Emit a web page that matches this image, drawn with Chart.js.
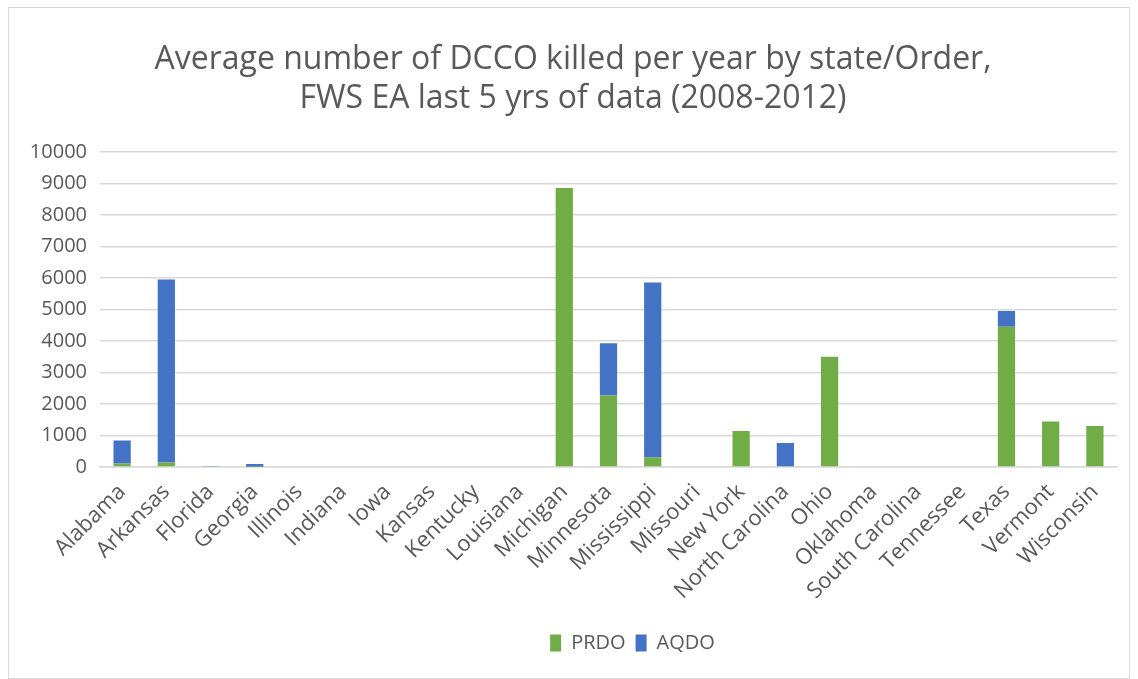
<!DOCTYPE html>
<html>
<head>
<meta charset="utf-8">
<script src="https://cdn.jsdelivr.net/npm/chart.js@4"></script>
<style>
  body { margin: 0; background: #fff; }
  #marco { position: absolute; left: 8px; top: 7px; width: 1122px; height: 672px; border: 1px solid #d9d9d9; box-sizing: border-box; }
</style>
</head>
<body>
<div id="marco"><canvas id="grafico"></canvas></div>
<script>
// datos
const estados = ['Alabama', 'Arkansas', 'Florida', 'Georgia', 'Illinois', 'Indiana', 'Iowa', 'Kansas',
  'Kentucky', 'Louisiana', 'Michigan', 'Minnesota', 'Mississippi', 'Missouri', 'New York',
  'North Carolina', 'Ohio', 'Oklahoma', 'South Carolina', 'Tennessee', 'Texas', 'Vermont', 'Wisconsin'];
const prdo = [110, 140, 0, 5, 0, 0, 0, 0, 0, 0, 8850, 2270, 300, 0, 1140, 0, 3500, 0, 0, 0, 4450, 1440, 1300];
const aqdo = [730, 5810, 15, 90, 0, 0, 0, 0, 0, 0, 0, 1660, 5550, 0, 0, 760, 0, 0, 0, 0, 500, 0, 0];
const ticksY = [0, 1000, 2000, 3000, 4000, 5000, 6000, 7000, 8000, 9000, 10000];

const gris = '#595959';
const fuente = "'Open Sans', sans-serif";

// corre la leyenda un poco a la derecha, como en la imagen
const moverLeyenda = {
  id: 'moverLeyenda',
  afterLayout(chart) {
    chart.legend.left += 24;
    chart.legend.right += 24;
  }
};

window.onload = () => {
  const ctx = document.getElementById('grafico').getContext('2d');
  new Chart(ctx, {
    type: 'bar',
    data: {
      labels: estados,
      datasets: [
        { label: 'PRDO', data: prdo, backgroundColor: '#70ad47', barPercentage: 0.78, categoryPercentage: 0.5 },
        { label: 'AQDO', data: aqdo, backgroundColor: '#4472c4', barPercentage: 0.78, categoryPercentage: 0.5 }
      ]
    },
    plugins: [moverLeyenda],
    options: {
      responsive: true,
      maintainAspectRatio: false,
      animation: false,
      layout: { padding: { left: 20, right: 12, top: 18, bottom: 15 } },
      scales: {
        x: {
          stacked: true,
          grid: { display: false },
          border: { color: '#d9d9d9', width: 1.5 },
          ticks: { color: gris, font: { family: fuente, size: 22 }, maxRotation: 45, minRotation: 45, autoSkip: false, padding: 4 },
          afterFit: (eje) => { eje.height = 156; }
        },
        y: {
          stacked: true,
          min: 0, max: 10000,
          afterBuildTicks: (eje) => { eje.ticks = ticksY.map(v => ({ value: v })); },
          grid: { color: '#d9d9d9', lineWidth: 1.5, drawTicks: false },
          border: { display: false },
          ticks: { color: gris, font: { family: fuente, size: 20 }, padding: 13, callback: (v) => String(v) },
          afterFit: (eje) => { eje.width = 71; }
        }
      },
      plugins: {
        title: {
          display: true,
          text: ['Average number of DCCO killed per year by state/Order,', 'FWS EA last 5 yrs of data (2008-2012)'],
          color: gris,
          font: { family: fuente, size: 32, weight: 'normal' },
          lineHeight: 1.28,
          padding: { top: 15, bottom: 34 }
        },
        legend: {
          position: 'bottom',
          fullSize: false,
          labels: { color: gris, font: { family: fuente, size: 20 }, boxWidth: 11, boxHeight: 17, padding: 10 }
        },
        tooltip: { enabled: false }
      }
    }
  });
};
</script>
</body>
</html>
